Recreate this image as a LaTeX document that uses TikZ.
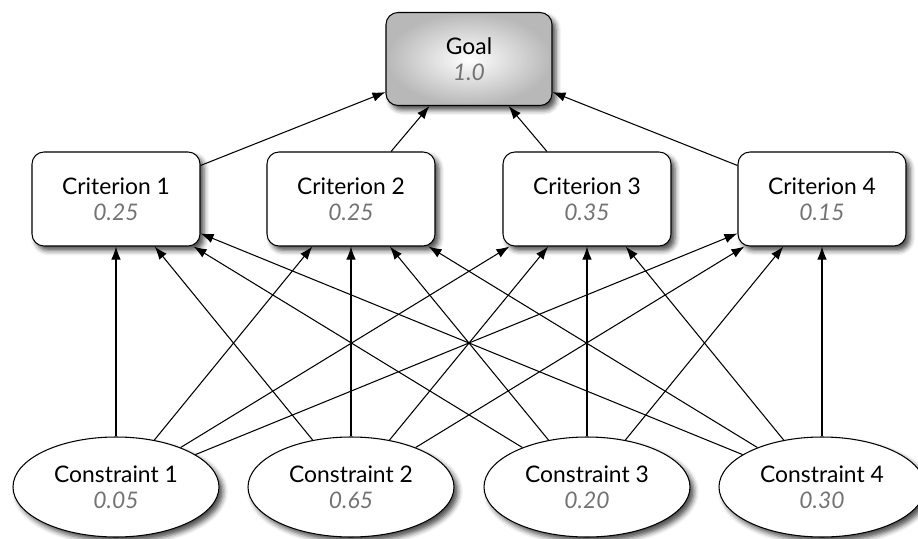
\documentclass[tikz,border=0pt]{standalone}
\usepackage{fontspec}
\setmainfont{Lato}
\usetikzlibrary{arrows.meta,shapes.geometric,shadows.blur}

\begin{document}
\begin{tikzpicture}[
	font=\fontsize{13}{15}\selectfont,
	soft shadow/.style={blur shadow={shadow xshift=0.08cm,shadow yshift=-0.09cm,shadow blur radius=0.1cm,shadow opacity=70}},
	critbox/.style={rectangle,rounded corners=0.24cm,draw=black,line width=0.6pt,fill=white,
	minimum width=3.36cm,minimum height=1.88cm,align=center,soft shadow},
	consbox/.style={ellipse,draw=black,line width=0.6pt,fill=white,inner sep=0pt,
	minimum width=4.12cm,minimum height=2cm,align=center,soft shadow},
	link/.style={-{Latex[length=2.6mm,width=1.9mm]},line width=0.6pt},
	]
	\useasboundingbox (0,0) rectangle (18.36,10.76);
	\newcommand{\weight}[1]{\textcolor{black!55}{\itshape #1}}

	\node(goal) [critbox,minimum width=3.32cm,minimum height=1.86cm,
	shading=radial,outer color=black!28,inner color=white] at (9.38,9.58) {Goal\\ \weight{1.0}};

	\node(crit1) [critbox] at (2.32,6.78) {Criterion 1\\ \weight{0.25}};
	\node(crit2) [critbox] at (7.02,6.78) {Criterion 2\\ \weight{0.25}};
	\node(crit3) [critbox] at (11.74,6.78) {Criterion 3\\ \weight{0.35}};
	\node(crit4) [critbox] at (16.44,6.78) {Criterion 4\\ \weight{0.15}};

	\node(cons1) [consbox] at (2.32,1.02) {Constraint 1\\ \weight{0.05}};
	\node(cons2) [consbox] at (7.02,1.02) {Constraint 2\\ \weight{0.65}};
	\node(cons3) [consbox] at (11.74,1.02) {Constraint 3\\ \weight{0.20}};
	\node(cons4) [consbox] at (16.44,1.02) {Constraint 4\\ \weight{0.30}};

	\foreach \c in {1,...,4} {
		\draw [link] (crit\c) -- (goal);
		\foreach \k in {1,...,4}
			\draw [link] (cons\k) -- (crit\c);
	}
\end{tikzpicture}
\end{document}
